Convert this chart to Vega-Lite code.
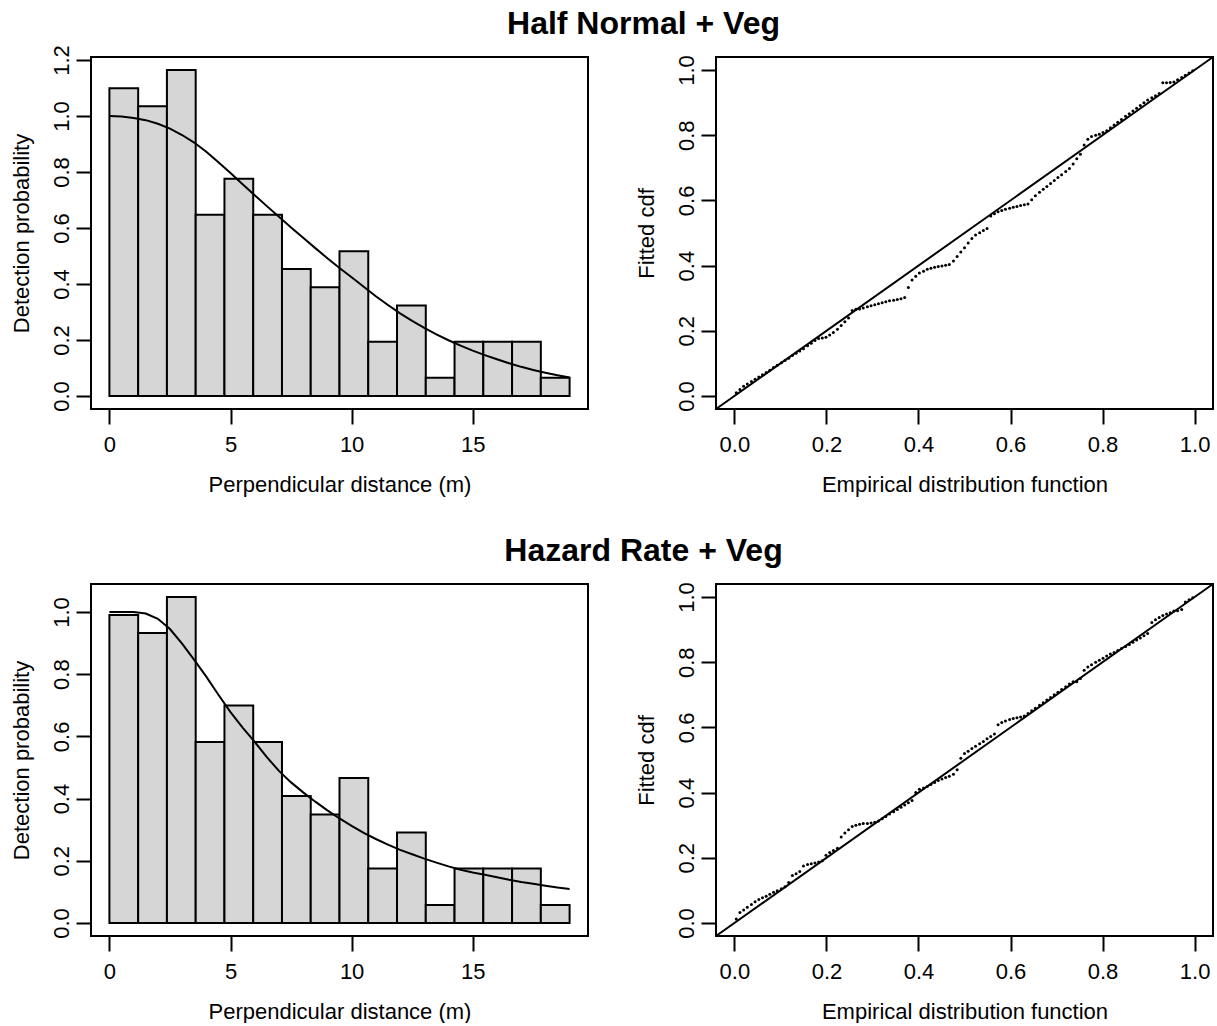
{
  "$schema": "https://vega.github.io/schema/vega-lite/v6.json",
  "background": "white",
  "padding": {"left": 8, "top": 7, "right": 3, "bottom": 0},
  "config": {
    "font": "Liberation Sans",
    "view": {"stroke": "black", "strokeWidth": 2, "fill": "white"},
    "axis": {"domain": false, "grid": false, "ticks": true, "tickColor": "black", "tickWidth": 2, "tickSize": 15,
      "labelFont": "Liberation Sans", "labelFontSize": 22, "labelColor": "black",
      "titleFont": "Liberation Sans", "titleFontSize": 22, "titleFontWeight": "normal", "titleColor": "black"},
    "axisY": {"labelAngle": -90, "labelAlign": "center", "labelBaseline": "bottom", "labelPadding": 3, "titlePadding": 17},
    "axisX": {"labelPadding": 10, "titlePadding": 19},
    "title": {"font": "Liberation Sans", "fontSize": 32, "fontWeight": "bold", "color": "black"}
  },
  "datasets": {
    "hn_bars": [
      {"left": 0, "right": 1.1875, "p": 1.099}, {"left": 1.1875, "right": 2.375, "p": 1.035},
      {"left": 2.375, "right": 3.5625, "p": 1.164}, {"left": 3.5625, "right": 4.75, "p": 0.647},
      {"left": 4.75, "right": 5.9375, "p": 0.776}, {"left": 5.9375, "right": 7.125, "p": 0.647},
      {"left": 7.125, "right": 8.3125, "p": 0.453}, {"left": 8.3125, "right": 9.5, "p": 0.388},
      {"left": 9.5, "right": 10.6875, "p": 0.517}, {"left": 10.6875, "right": 11.875, "p": 0.194},
      {"left": 11.875, "right": 13.0625, "p": 0.323}, {"left": 13.0625, "right": 14.25, "p": 0.065},
      {"left": 14.25, "right": 15.4375, "p": 0.194}, {"left": 15.4375, "right": 16.625, "p": 0.194},
      {"left": 16.625, "right": 17.8125, "p": 0.194}, {"left": 17.8125, "right": 19, "p": 0.065}
    ],
    "hr_bars": [
      {"left": 0, "right": 1.1875, "p": 0.990}, {"left": 1.1875, "right": 2.375, "p": 0.932},
      {"left": 2.375, "right": 3.5625, "p": 1.048}, {"left": 3.5625, "right": 4.75, "p": 0.582},
      {"left": 4.75, "right": 5.9375, "p": 0.699}, {"left": 5.9375, "right": 7.125, "p": 0.582},
      {"left": 7.125, "right": 8.3125, "p": 0.408}, {"left": 8.3125, "right": 9.5, "p": 0.349},
      {"left": 9.5, "right": 10.6875, "p": 0.466}, {"left": 10.6875, "right": 11.875, "p": 0.175},
      {"left": 11.875, "right": 13.0625, "p": 0.291}, {"left": 13.0625, "right": 14.25, "p": 0.058},
      {"left": 14.25, "right": 15.4375, "p": 0.175}, {"left": 15.4375, "right": 16.625, "p": 0.175},
      {"left": 16.625, "right": 17.8125, "p": 0.175}, {"left": 17.8125, "right": 19, "p": 0.058}
    ],
    "curves": [
      {"d": 0, "hn": 1.0, "hr": 1.0}, {"d": 0.5, "hn": 0.998, "hr": 1.0}, {"d": 1, "hn": 0.993, "hr": 1.0},
      {"d": 1.5, "hn": 0.985, "hr": 0.995}, {"d": 2, "hn": 0.972, "hr": 0.978}, {"d": 2.5, "hn": 0.955, "hr": 0.945},
      {"d": 3, "hn": 0.932, "hr": 0.898}, {"d": 3.5, "hn": 0.905, "hr": 0.846}, {"d": 4, "hn": 0.872, "hr": 0.792},
      {"d": 4.5, "hn": 0.835, "hr": 0.734}, {"d": 5, "hn": 0.796, "hr": 0.678}, {"d": 5.5, "hn": 0.756, "hr": 0.628},
      {"d": 6, "hn": 0.717, "hr": 0.582}, {"d": 6.5, "hn": 0.678, "hr": 0.533}, {"d": 7, "hn": 0.640, "hr": 0.489},
      {"d": 7.5, "hn": 0.602, "hr": 0.452}, {"d": 8, "hn": 0.565, "hr": 0.420}, {"d": 8.5, "hn": 0.528, "hr": 0.390},
      {"d": 9, "hn": 0.492, "hr": 0.362}, {"d": 9.5, "hn": 0.457, "hr": 0.336}, {"d": 10, "hn": 0.424, "hr": 0.312},
      {"d": 10.5, "hn": 0.390, "hr": 0.290}, {"d": 11, "hn": 0.356, "hr": 0.270}, {"d": 11.5, "hn": 0.325, "hr": 0.252},
      {"d": 12, "hn": 0.295, "hr": 0.235}, {"d": 12.5, "hn": 0.268, "hr": 0.221}, {"d": 13, "hn": 0.243, "hr": 0.207},
      {"d": 13.5, "hn": 0.220, "hr": 0.194}, {"d": 14, "hn": 0.199, "hr": 0.182}, {"d": 14.5, "hn": 0.180, "hr": 0.171},
      {"d": 15, "hn": 0.162, "hr": 0.162}, {"d": 15.5, "hn": 0.146, "hr": 0.155}, {"d": 16, "hn": 0.131, "hr": 0.147},
      {"d": 16.5, "hn": 0.117, "hr": 0.139}, {"d": 17, "hn": 0.104, "hr": 0.132}, {"d": 17.5, "hn": 0.093, "hr": 0.126},
      {"d": 18, "hn": 0.083, "hr": 0.120}, {"d": 18.5, "hn": 0.074, "hr": 0.114}, {"d": 19, "hn": 0.066, "hr": 0.109}
    ],
    "diag": [{"e": -0.04, "f": -0.04}, {"e": 1.04, "f": 1.04}],
    "qq": [
      {"e":0.004,"hn":0.010,"hr":0.012},{"e":0.012,"hn":0.020,"hr":0.032},{"e":0.020,"hn":0.030,"hr":0.040},{"e":0.028,"hn":0.037,"hr":0.048},{"e":0.037,"hn":0.044,"hr":0.057},
      {"e":0.045,"hn":0.051,"hr":0.065},{"e":0.053,"hn":0.058,"hr":0.072},{"e":0.061,"hn":0.065,"hr":0.077},{"e":0.069,"hn":0.072,"hr":0.082},{"e":0.077,"hn":0.079,"hr":0.088},
      {"e":0.085,"hn":0.087,"hr":0.094},{"e":0.093,"hn":0.094,"hr":0.099},{"e":0.102,"hn":0.102,"hr":0.105},{"e":0.110,"hn":0.109,"hr":0.111},{"e":0.118,"hn":0.116,"hr":0.124},
      {"e":0.126,"hn":0.124,"hr":0.146},{"e":0.134,"hn":0.131,"hr":0.151},{"e":0.142,"hn":0.138,"hr":0.158},{"e":0.150,"hn":0.145,"hr":0.175},{"e":0.159,"hn":0.154,"hr":0.179},
      {"e":0.167,"hn":0.162,"hr":0.182},{"e":0.175,"hn":0.170,"hr":0.184},{"e":0.183,"hn":0.176,"hr":0.187},{"e":0.191,"hn":0.178,"hr":0.191},{"e":0.199,"hn":0.180,"hr":0.208},
      {"e":0.207,"hn":0.187,"hr":0.216},{"e":0.215,"hn":0.195,"hr":0.222},{"e":0.224,"hn":0.205,"hr":0.229},{"e":0.232,"hn":0.216,"hr":0.264},{"e":0.240,"hn":0.228,"hr":0.276},
      {"e":0.248,"hn":0.239,"hr":0.286},{"e":0.256,"hn":0.262,"hr":0.296},{"e":0.264,"hn":0.266,"hr":0.300},{"e":0.272,"hn":0.267,"hr":0.303},{"e":0.280,"hn":0.270,"hr":0.305},
      {"e":0.289,"hn":0.274,"hr":0.305},{"e":0.297,"hn":0.277,"hr":0.307},{"e":0.305,"hn":0.280,"hr":0.309},{"e":0.313,"hn":0.283,"hr":0.313},{"e":0.321,"hn":0.286,"hr":0.320},
      {"e":0.329,"hn":0.289,"hr":0.327},{"e":0.337,"hn":0.292,"hr":0.334},{"e":0.346,"hn":0.294,"hr":0.341},{"e":0.354,"hn":0.296,"hr":0.348},{"e":0.362,"hn":0.298,"hr":0.355},
      {"e":0.370,"hn":0.302,"hr":0.362},{"e":0.378,"hn":0.333,"hr":0.369},{"e":0.386,"hn":0.356,"hr":0.376},{"e":0.394,"hn":0.367,"hr":0.400},{"e":0.402,"hn":0.377,"hr":0.410},
      {"e":0.411,"hn":0.383,"hr":0.414},{"e":0.419,"hn":0.389,"hr":0.419},{"e":0.427,"hn":0.392,"hr":0.425},{"e":0.435,"hn":0.395,"hr":0.431},{"e":0.443,"hn":0.397,"hr":0.437},
      {"e":0.451,"hn":0.399,"hr":0.442},{"e":0.459,"hn":0.401,"hr":0.446},{"e":0.467,"hn":0.403,"hr":0.450},{"e":0.476,"hn":0.414,"hr":0.456},{"e":0.484,"hn":0.428,"hr":0.470},
      {"e":0.492,"hn":0.442,"hr":0.505},{"e":0.500,"hn":0.455,"hr":0.520},{"e":0.508,"hn":0.469,"hr":0.527},{"e":0.516,"hn":0.483,"hr":0.535},{"e":0.524,"hn":0.494,"hr":0.542},
      {"e":0.533,"hn":0.501,"hr":0.550},{"e":0.541,"hn":0.508,"hr":0.557},{"e":0.549,"hn":0.514,"hr":0.565},{"e":0.557,"hn":0.552,"hr":0.572},{"e":0.565,"hn":0.559,"hr":0.580},
      {"e":0.573,"hn":0.565,"hr":0.608},{"e":0.581,"hn":0.569,"hr":0.615},{"e":0.589,"hn":0.573,"hr":0.620},{"e":0.598,"hn":0.576,"hr":0.624},{"e":0.606,"hn":0.579,"hr":0.627},
      {"e":0.614,"hn":0.581,"hr":0.630},{"e":0.622,"hn":0.584,"hr":0.632},{"e":0.630,"hn":0.587,"hr":0.635},{"e":0.638,"hn":0.589,"hr":0.643},{"e":0.646,"hn":0.602,"hr":0.651},
      {"e":0.654,"hn":0.614,"hr":0.659},{"e":0.663,"hn":0.625,"hr":0.668},{"e":0.671,"hn":0.634,"hr":0.676},{"e":0.679,"hn":0.643,"hr":0.684},{"e":0.687,"hn":0.652,"hr":0.692},
      {"e":0.695,"hn":0.661,"hr":0.700},{"e":0.703,"hn":0.670,"hr":0.708},{"e":0.711,"hn":0.679,"hr":0.716},{"e":0.720,"hn":0.689,"hr":0.725},{"e":0.728,"hn":0.698,"hr":0.733},
      {"e":0.736,"hn":0.712,"hr":0.740},{"e":0.744,"hn":0.728,"hr":0.740},{"e":0.752,"hn":0.742,"hr":0.750},{"e":0.760,"hn":0.770,"hr":0.775},{"e":0.768,"hn":0.788,"hr":0.785},
      {"e":0.776,"hn":0.796,"hr":0.792},{"e":0.785,"hn":0.800,"hr":0.800},{"e":0.793,"hn":0.803,"hr":0.806},{"e":0.801,"hn":0.808,"hr":0.812},{"e":0.809,"hn":0.814,"hr":0.819},
      {"e":0.817,"hn":0.823,"hr":0.825},{"e":0.825,"hn":0.831,"hr":0.830},{"e":0.833,"hn":0.840,"hr":0.836},{"e":0.841,"hn":0.848,"hr":0.842},{"e":0.850,"hn":0.858,"hr":0.848},
      {"e":0.858,"hn":0.866,"hr":0.854},{"e":0.866,"hn":0.874,"hr":0.861},{"e":0.874,"hn":0.883,"hr":0.868},{"e":0.882,"hn":0.891,"hr":0.874},{"e":0.890,"hn":0.900,"hr":0.881},
      {"e":0.898,"hn":0.908,"hr":0.888},{"e":0.907,"hn":0.915,"hr":0.922},{"e":0.915,"hn":0.921,"hr":0.930},{"e":0.923,"hn":0.928,"hr":0.937},{"e":0.931,"hn":0.961,"hr":0.943},
      {"e":0.939,"hn":0.961,"hr":0.948},{"e":0.947,"hn":0.962,"hr":0.952},{"e":0.955,"hn":0.963,"hr":0.957},{"e":0.963,"hn":0.970,"hr":0.958},{"e":0.972,"hn":0.977,"hr":0.962},
      {"e":0.980,"hn":0.984,"hr":0.985},{"e":0.988,"hn":0.991,"hr":0.992},{"e":0.996,"hn":0.998,"hr":0.998}
    ]
  },
  "columns": 2,
  "bounds": "flush",
  "spacing": {"row": 175, "column": 128},
  "concat": [
    {
      "width": 497, "height": 352,
      "title": {"text": "Half Normal + Veg", "frame": "group", "anchor": "middle", "dx": 304, "baseline": "alphabetic", "offset": -21.5},
      "layer": [
        {
          "data": {"name": "hn_bars"},
          "mark": {"type": "rect", "fill": "#d6d6d6", "stroke": "black", "strokeWidth": 2},
          "encoding": {
            "x": {"field": "left", "type": "quantitative", "scale": {"domain": [-0.76, 19.76], "nice": false, "zero": false},
              "axis": {"values": [0, 5, 10, 15], "format": "d", "title": "Perpendicular distance (m)"}},
            "x2": {"field": "right"},
            "y": {"field": "p", "type": "quantitative", "scale": {"domain": [-0.0466, 1.2106], "nice": false, "zero": false},
              "axis": {"values": [0, 0.2, 0.4, 0.6, 0.8, 1.0, 1.2], "format": ".1f", "title": "Detection probability"}},
            "y2": {"datum": 0}
          }
        },
        {
          "data": {"name": "curves"},
          "mark": {"type": "line", "stroke": "black", "strokeWidth": 2},
          "encoding": {
            "x": {"field": "d", "type": "quantitative"},
            "y": {"field": "hn", "type": "quantitative"}
          }
        }
      ]
    },
    {
      "width": 497, "height": 352,
      "layer": [
        {
          "data": {"name": "diag"},
          "mark": {"type": "line", "stroke": "black", "strokeWidth": 2},
          "encoding": {
            "x": {"field": "e", "type": "quantitative", "scale": {"domain": [-0.04, 1.04], "nice": false, "zero": false},
              "axis": {"values": [0, 0.2, 0.4, 0.6, 0.8, 1.0], "format": ".1f", "title": "Empirical distribution function"}},
            "y": {"field": "f", "type": "quantitative", "scale": {"domain": [-0.04, 1.04], "nice": false, "zero": false},
              "axis": {"values": [0, 0.2, 0.4, 0.6, 0.8, 1.0], "format": ".1f", "title": "Fitted cdf"}}
          }
        },
        {
          "data": {"name": "qq"},
          "mark": {"type": "circle", "size": 9, "color": "black", "opacity": 1},
          "encoding": {
            "x": {"field": "e", "type": "quantitative"},
            "y": {"field": "hn", "type": "quantitative"}
          }
        }
      ]
    },
    {
      "width": 497, "height": 352,
      "title": {"text": "Hazard Rate + Veg", "frame": "group", "anchor": "middle", "dx": 304, "baseline": "alphabetic", "offset": -9},
      "layer": [
        {
          "data": {"name": "hr_bars"},
          "mark": {"type": "rect", "fill": "#d6d6d6", "stroke": "black", "strokeWidth": 2},
          "encoding": {
            "x": {"field": "left", "type": "quantitative", "scale": {"domain": [-0.76, 19.76], "nice": false, "zero": false},
              "axis": {"values": [0, 5, 10, 15], "format": "d", "title": "Perpendicular distance (m)"}},
            "x2": {"field": "right"},
            "y": {"field": "p", "type": "quantitative", "scale": {"domain": [-0.0419, 1.0899], "nice": false, "zero": false},
              "axis": {"values": [0, 0.2, 0.4, 0.6, 0.8, 1.0], "format": ".1f", "title": "Detection probability"}},
            "y2": {"datum": 0}
          }
        },
        {
          "data": {"name": "curves"},
          "mark": {"type": "line", "stroke": "black", "strokeWidth": 2},
          "encoding": {
            "x": {"field": "d", "type": "quantitative"},
            "y": {"field": "hr", "type": "quantitative"}
          }
        }
      ]
    },
    {
      "width": 497, "height": 352,
      "layer": [
        {
          "data": {"name": "diag"},
          "mark": {"type": "line", "stroke": "black", "strokeWidth": 2},
          "encoding": {
            "x": {"field": "e", "type": "quantitative", "scale": {"domain": [-0.04, 1.04], "nice": false, "zero": false},
              "axis": {"values": [0, 0.2, 0.4, 0.6, 0.8, 1.0], "format": ".1f", "title": "Empirical distribution function"}},
            "y": {"field": "f", "type": "quantitative", "scale": {"domain": [-0.04, 1.04], "nice": false, "zero": false},
              "axis": {"values": [0, 0.2, 0.4, 0.6, 0.8, 1.0], "format": ".1f", "title": "Fitted cdf"}}
          }
        },
        {
          "data": {"name": "qq"},
          "mark": {"type": "circle", "size": 9, "color": "black", "opacity": 1},
          "encoding": {
            "x": {"field": "e", "type": "quantitative"},
            "y": {"field": "hr", "type": "quantitative"}
          }
        }
      ]
    }
  ]
}
